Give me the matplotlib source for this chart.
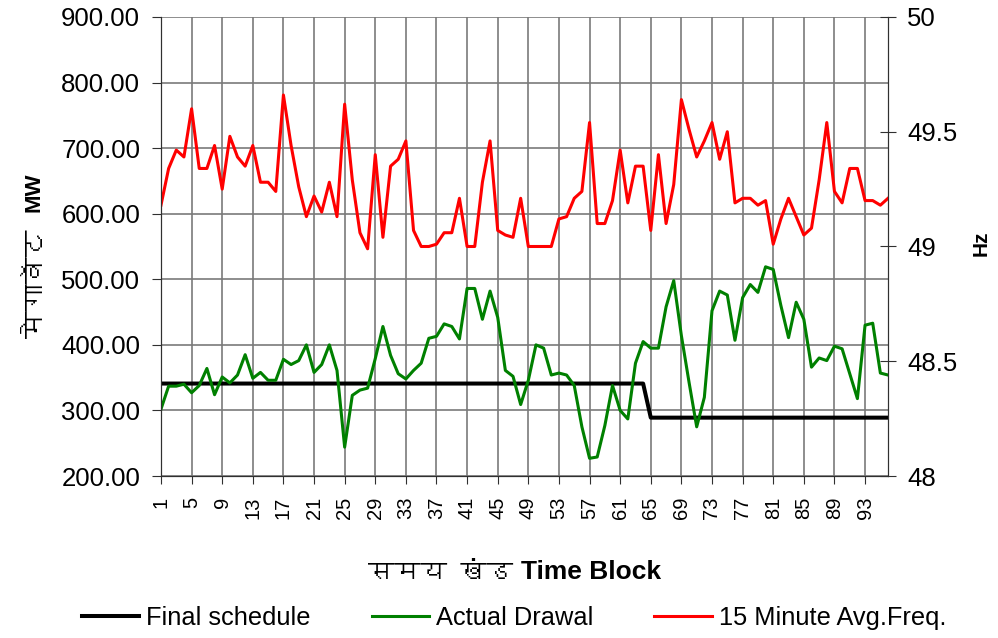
import numpy as np
import matplotlib
matplotlib.use("Agg")
import matplotlib.pyplot as plt
from matplotlib import font_manager
from matplotlib.ft2font import FT2Font

############################################
# data
############################################

blocks = np.arange(1, 97)

final_schedule = [341] * 64 + [289] * 32

actual_drawal = [
    302, 337, 337, 340, 327, 338, 364, 324, 351, 342, 354, 385, 349, 358, 346, 346,
    378, 370, 376, 400, 358, 370, 400, 361, 244, 323, 331, 334, 379, 428, 384, 356,
    348, 361, 372, 410, 413, 432, 428, 409, 486, 486, 439, 482, 442, 361, 352, 309,
    346, 400, 395, 354, 357, 354, 338, 275, 227, 229, 277, 338, 300, 287, 372, 405,
    395, 395, 458, 498, 414, 343, 275, 320, 452, 482, 476, 407, 472, 492, 480, 519,
    515, 460, 411, 465, 439, 366, 380, 376, 398, 394, 356, 318, 430, 433, 357, 354,
]

avg_freq = [
    49.18, 49.34, 49.42, 49.39, 49.60, 49.34, 49.34, 49.44, 49.25, 49.48, 49.39, 49.35,
    49.44, 49.28, 49.28, 49.24, 49.66, 49.44, 49.26, 49.13, 49.22, 49.15, 49.28, 49.13,
    49.62, 49.29, 49.06, 48.99, 49.40, 49.04, 49.35, 49.38, 49.46, 49.07, 49.00, 49.00,
    49.01, 49.06, 49.06, 49.21, 49.00, 49.00, 49.28, 49.46, 49.07, 49.05, 49.04, 49.21,
    49.00, 49.00, 49.00, 49.00, 49.12, 49.13, 49.21, 49.24, 49.54, 49.10, 49.10, 49.20,
    49.42, 49.19, 49.35, 49.35, 49.07, 49.40, 49.10, 49.27, 49.64, 49.51, 49.39, 49.46,
    49.54, 49.38, 49.50, 49.19, 49.21, 49.21, 49.18, 49.20, 49.01, 49.12, 49.21, 49.13,
    49.05, 49.08, 49.29, 49.54, 49.24, 49.19, 49.34, 49.34, 49.20, 49.20, 49.18, 49.21,
]

mw_ticks = [200, 300, 400, 500, 600, 700, 800, 900]
hz_ticks = [48, 48.5, 49, 49.5, 50]
block_ticks = list(range(1, 97, 4))

############################################
# fonts: look for something with Devanagari
############################################

def find_family(ch):
    for f in font_manager.fontManager.ttflist:
        try:
            if FT2Font(f.fname).get_char_index(ord(ch)):
                return f.name
        except Exception:
            pass
    return None

deva = find_family("म")
base = "Liberation Sans"
deva_family = [deva, base, "DejaVu Sans"] if deva else [base, "DejaVu Sans"]

plt.rcParams["font.family"] = [base, "DejaVu Sans"]

############################################
# plot
############################################

fig = plt.figure(figsize=(9.98, 6.38), dpi=100)
ax = fig.add_axes([0.1613, 0.2539, 0.7285, 0.7195])
ax2 = ax.twinx()

ax.plot(blocks, final_schedule, color="black", lw=2.9, label="Final schedule", zorder=3)
ax.plot(blocks, actual_drawal, color="#008000", lw=2.2, label="Actual Drawal", zorder=4)
ax2.plot(blocks, avg_freq, color="#FF0000", lw=2.2, label="15 Minute Avg.Freq.")

ax.set_xlim(1, 96)
ax.set_ylim(200, 900)
ax2.set_ylim(48, 50)

ax.set_yticks(mw_ticks)
ax.set_yticklabels(["%.2f" % v for v in mw_ticks], fontsize=18.5)
ax2.set_yticks(hz_ticks)
ax2.set_yticklabels(["%g" % v for v in hz_ticks], fontsize=18.5)

ax.set_xticks(block_ticks)
ax.set_xticklabels([str(b) for b in block_ticks], rotation=90, fontsize=14.5)

ax.grid(True, color="#7a7a7a", lw=1.2)
ax.set_axisbelow(True)

for a in (ax, ax2):
    a.spines["top"].set_visible(False)
    a.spines["left"].set_color("#303030")
    a.spines["right"].set_color("#303030")
    a.spines["bottom"].set_color("#303030")

ax.tick_params(axis="y", direction="out", length=6.5, color="#303030", pad=8.5)
ax.tick_params(axis="x", direction="out", length=6, color="#303030", pad=9)
ax2.tick_params(axis="y", direction="inout", length=11.5, color="#303030", pad=8)

############################################
# labels
############################################

fig.text(0.037, 0.556, "मेगावॅट", rotation=90, fontsize=19.5,
         family=deva_family, ha="center", va="center")
fig.text(0.034, 0.699, "MW", rotation=90, fontsize=16, fontweight="bold",
         ha="center", va="center")
fig.text(0.983, 0.619, "Hz", rotation=90, fontsize=15, fontweight="bold",
         ha="center", va="center")

fig.text(0.441, 0.103, "समय खंड", fontsize=19, family=deva_family,
         ha="center", va="center")
fig.text(0.592, 0.103, "Time Block", fontsize=19, fontweight="bold",
         ha="center", va="center")

handles = ax.get_lines() + ax2.get_lines()
fig.legend(handles, [h.get_label() for h in handles], loc="center left",
           bbox_to_anchor=(0.082, 0.031), ncol=3, frameon=False, fontsize=18.3,
           borderpad=0, borderaxespad=0, handlelength=2.26, handletextpad=0.27,
           columnspacing=2.4)

fig.savefig("out.png", dpi=100)
